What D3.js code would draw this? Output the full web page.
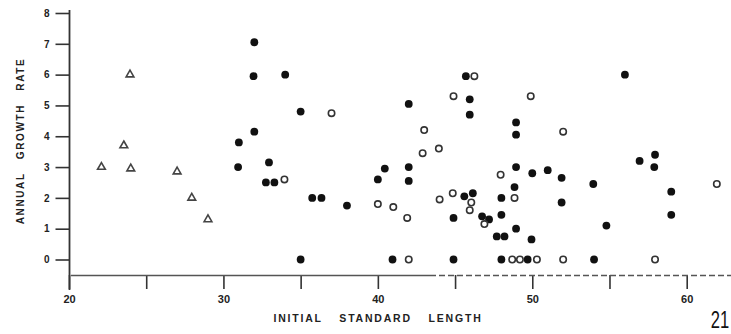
<!DOCTYPE html>
<html>
<head>
<meta charset="utf-8">
<script src="https://cdn.jsdelivr.net/npm/d3@7"></script>
<style>
  html, body { margin: 0; padding: 0; background: #fff; }
  svg { display: block; }
  .lbl { font-family: "Liberation Sans", Arial, sans-serif; font-weight: bold; fill: #222; }
  .title { white-space: pre; }
</style>
</head>
<body>
<svg id="chart" width="731" height="334"></svg>
<script>
// Initial standard length (x) vs. annual growth rate (y), three groups of fish.
const triangleLength = [22.1, 23.95, 23.55, 24.0, 27.0, 27.95, 29.0];
const triangleRate   = [3.0, 6.0, 3.7, 2.95, 2.85, 2.0, 1.3];

const filledLength = [32.0, 31.95, 34.0, 32.0, 31.0, 30.95, 32.95, 32.75, 33.3, 35.0, 35.0, 35.75, 36.35, 38.0,
  40.45, 40.0, 42.0, 42.0, 42.0, 40.95, 45.7, 45.95, 45.95, 48.95, 48.95, 48.95, 48.85, 48.0, 45.6, 46.15,
  44.9, 46.75, 47.2, 48.0, 48.95, 47.7, 48.2, 44.9, 48.0, 49.7, 56.0, 50.0, 51.0, 51.9, 53.95, 51.9, 54.8,
  49.95, 54.0, 56.95, 57.95, 57.9, 59.0, 59.0];
const filledRate = [7.05, 5.95, 6.0, 4.15, 3.8, 3.0, 3.15, 2.5, 2.5, 4.8, 0.0, 2.0, 2.0, 1.75,
  2.95, 2.6, 5.05, 3.0, 2.55, 0.0, 5.95, 5.2, 4.7, 4.45, 4.05, 3.0, 2.35, 2.0, 2.05, 2.15,
  1.35, 1.4, 1.3, 1.45, 1.0, 0.75, 0.75, 0.0, 0.0, 0.0, 6.0, 2.8, 2.9, 2.65, 2.45, 1.85, 1.1,
  0.65, 0.0, 3.2, 3.4, 3.0, 2.2, 1.45];

const openLength = [33.95, 37.0, 40.0, 41.0, 41.9, 42.0, 46.25, 44.9, 43.0, 42.9, 43.95, 47.95, 48.85, 44.0,
  44.85, 46.05, 45.95, 46.9, 48.7, 49.2, 49.9, 52.0, 50.3, 52.0, 57.95, 61.95];
const openRate = [2.6, 4.75, 1.8, 1.7, 1.35, 0.0, 5.95, 5.3, 4.2, 3.45, 3.6, 2.75, 2.0, 1.95,
  2.15, 1.85, 1.6, 1.15, 0.0, 0.0, 5.3, 4.15, 0.0, 0.0, 0.0, 2.45];

const xTicks = [20, 25, 30, 35, 40, 45, 50, 55, 60];
const xTickLabels = ["20", "", "30", "", "40", "", "50", "", "60"];
const yTicks = [0, 1, 2, 3, 4, 5, 6, 7, 8];

const svg = d3.select("#chart");
const x = d3.scaleLinear().domain([20, 60]).range([69, 686.7]);
const y = d3.scaleLinear().domain([0, 8]).range([259.5, 13]);
const axisY = 275;

// y axis
const gy = svg.append("g").attr("transform", "translate(69.5,0)")
  .call(d3.axisLeft(y).tickValues(yTicks).tickSize(14).tickPadding(6).tickFormat(d3.format("d")));
gy.select(".domain").remove();
gy.selectAll(".tick line").attr("stroke", "#333").attr("stroke-width", 1.6);
gy.selectAll(".tick text").attr("class", "lbl").style("font-size", "10px");
svg.append("line").attr("x1", 69.5).attr("x2", 69.5).attr("y1", 10).attr("y2", 290)
  .attr("stroke", "#333").attr("stroke-width", 1.8);

// x axis
const gx = svg.append("g").attr("transform", `translate(0,${axisY})`)
  .call(d3.axisBottom(x).tickValues(xTicks).tickSize(14).tickPadding(6)
    .tickFormat((d, i) => xTickLabels[i]));
gx.select(".domain").remove();
gx.selectAll(".tick line").attr("stroke", "#333").attr("stroke-width", 1.6);
gx.selectAll(".tick text").attr("class", "lbl").style("font-size", "11px");
svg.append("line").attr("x1", 71).attr("x2", 430).attr("y1", axisY + 0.5).attr("y2", axisY + 0.5)
  .attr("stroke", "#555").attr("stroke-width", 1.5);
svg.append("line").attr("x1", 430).attr("x2", 731).attr("y1", axisY + 0.5).attr("y2", axisY + 0.5)
  .attr("stroke", "#555").attr("stroke-width", 1.5).attr("stroke-dasharray", "6,3");

// axis titles
svg.append("text").attr("class", "lbl title")
  .attr("transform", "translate(24,141) rotate(-90)")
  .attr("text-anchor", "middle").style("font-size", "10px")
  .style("letter-spacing", "1.6px").style("word-spacing", "9px")
  .text("ANNUAL GROWTH RATE");
svg.append("text").attr("class", "lbl title")
  .attr("x", 378).attr("y", 322).attr("text-anchor", "middle").style("font-size", "10.5px")
  .style("letter-spacing", "1.8px").style("word-spacing", "12px")
  .text("INITIAL STANDARD LENGTH");
svg.append("text")
  .attr("transform", "translate(720,328) scale(0.72,1)")
  .attr("text-anchor", "middle")
  .style("font-family", "'Liberation Sans', Arial, sans-serif").style("font-size", "23px").style("fill", "#111")
  .text("21");

// open triangles
const tri = d3.symbol().type(d3.symbolTriangle).size(26);
svg.append("g").selectAll("path").data(d3.range(triangleLength.length)).join("path")
  .attr("d", tri)
  .attr("transform", i => `translate(${x(triangleLength[i])},${y(triangleRate[i])})`)
  .attr("fill", "#fff").attr("stroke", "#444").attr("stroke-width", 1.6);

// filled circles
svg.append("g").selectAll("circle").data(d3.range(filledLength.length)).join("circle")
  .attr("cx", i => x(filledLength[i])).attr("cy", i => y(filledRate[i]))
  .attr("r", 3.9).attr("fill", "#111");

// open circles
svg.append("g").selectAll("circle").data(d3.range(openLength.length)).join("circle")
  .attr("cx", i => x(openLength[i])).attr("cy", i => y(openRate[i]))
  .attr("r", 3.2).attr("fill", "#fff").attr("stroke", "#333").attr("stroke-width", 1.6);
</script>
</body>
</html>
